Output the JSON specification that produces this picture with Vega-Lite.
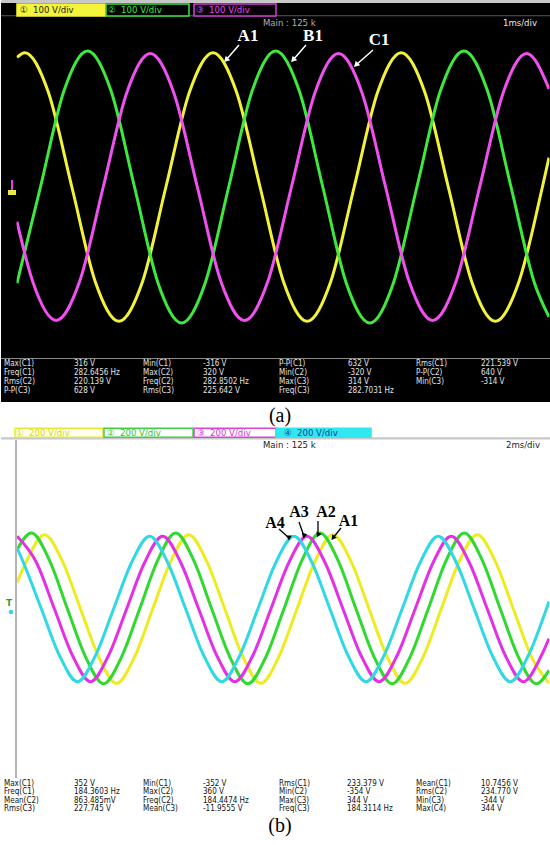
{
"$schema": "https://vega.github.io/schema/vega-lite/v6.json",
"padding": 0,
"background": "#ffffff",
"spacing": 0,
"config": {"view": {"stroke": null}, "axis": {"minExtent": 0, "maxExtent": 0}},
"vconcat": [
{
"width": 550, "height": 427,
"view": {"fill": "#000000", "stroke": null},
"resolve": {"scale": {"color": "independent", "fill": "independent", "stroke": "independent"}},
"layer": [
{
"data": {"values": [
{"c":"A","t":0,"v":305},{"c":"A","t":0.146,"v":316},{"c":"A","t":0.588,"v":223.4},{"c":"A","t":1.031,"v":0},{"c":"A","t":1.473,"v":-223.4},{"c":"A","t":1.915,"v":-316},{"c":"A","t":2.357,"v":-223.4},{"c":"A","t":2.799,"v":0},{"c":"A","t":3.242,"v":223.4},{"c":"A","t":3.684,"v":316},{"c":"A","t":4.126,"v":223.4},{"c":"A","t":4.569,"v":0},{"c":"A","t":5.011,"v":-223.4},{"c":"A","t":5.453,"v":-316},{"c":"A","t":5.895,"v":-223.4},{"c":"A","t":6.338,"v":0},{"c":"A","t":6.78,"v":223.4},{"c":"A","t":7.222,"v":316},{"c":"A","t":7.664,"v":223.4},{"c":"A","t":8.107,"v":0},{"c":"A","t":8.549,"v":-223.4},{"c":"A","t":8.991,"v":-316},{"c":"A","t":9.433,"v":-223.4},{"c":"A","t":9.876,"v":0},{"c":"A","t":10,"v":69},
{"c":"B","t":0,"v":-226.3},{"c":"B","t":0.441,"v":0},{"c":"B","t":0.883,"v":226.3},{"c":"B","t":1.325,"v":320},{"c":"B","t":1.767,"v":226.3},{"c":"B","t":2.209,"v":0},{"c":"B","t":2.652,"v":-226.3},{"c":"B","t":3.094,"v":-320},{"c":"B","t":3.536,"v":-226.3},{"c":"B","t":3.979,"v":0},{"c":"B","t":4.421,"v":226.3},{"c":"B","t":4.863,"v":320},{"c":"B","t":5.305,"v":226.3},{"c":"B","t":5.748,"v":0},{"c":"B","t":6.19,"v":-226.3},{"c":"B","t":6.632,"v":-320},{"c":"B","t":7.074,"v":-226.3},{"c":"B","t":7.517,"v":0},{"c":"B","t":7.959,"v":226.3},{"c":"B","t":8.401,"v":320},{"c":"B","t":8.843,"v":226.3},{"c":"B","t":9.286,"v":0},{"c":"B","t":9.728,"v":-226.3},{"c":"B","t":10,"v":-305.6},
{"c":"C","t":0,"v":-81.8},{"c":"C","t":0.294,"v":-222},{"c":"C","t":0.736,"v":-314},{"c":"C","t":1.178,"v":-222},{"c":"C","t":1.621,"v":0},{"c":"C","t":2.063,"v":222},{"c":"C","t":2.505,"v":314},{"c":"C","t":2.947,"v":222},{"c":"C","t":3.39,"v":0},{"c":"C","t":3.832,"v":-222},{"c":"C","t":4.274,"v":-314},{"c":"C","t":4.716,"v":-222},{"c":"C","t":5.159,"v":0},{"c":"C","t":5.601,"v":222},{"c":"C","t":6.043,"v":314},{"c":"C","t":6.485,"v":222},{"c":"C","t":6.928,"v":0},{"c":"C","t":7.37,"v":-222},{"c":"C","t":7.812,"v":-314},{"c":"C","t":8.254,"v":-222},{"c":"C","t":8.697,"v":0},{"c":"C","t":9.139,"v":222},{"c":"C","t":9.581,"v":314},{"c":"C","t":10,"v":231}
]},
"mark": {"type": "line", "interpolate": "monotone", "strokeWidth": 3},
"encoding": {
"x": {"field": "t", "type": "quantitative", "scale": {"domain": [-0.30075, 10.03759], "nice": false, "zero": false},
"axis": {"title": null, "labels": false, "ticks": false, "domain": false, "grid": true, "gridWidth": 1,
"gridColor": {"condition": {"test": "abs(datum.value - round(datum.value)) < 0.001", "value": "#4a4a4a"}, "value": "#2e2e2e"},
"values": [0,0.2,0.4,0.6,0.8,1,1.2,1.4,1.6,1.8,2,2.2,2.4,2.6,2.8,3,3.2,3.4,3.6,3.8,4,4.2,4.4,4.6,4.8,5,5.2,5.4,5.6,5.8,6,6.2,6.4,6.6,6.8,7,7.2,7.4,7.6,7.8,8,8.2,8.4,8.6,8.8,9,9.2,9.4,9.6,9.8,10]}},
"y": {"field": "v", "type": "quantitative", "scale": {"domain": [-564.71, 440], "nice": false, "zero": false},
"axis": {"title": null, "labels": false, "ticks": false, "domain": false, "grid": true, "gridWidth": 1,
"gridColor": {"condition": {"test": "datum.value % 100 == 0", "value": "#4a4a4a"}, "value": "#2e2e2e"},
"values": [-400,-380,-360,-340,-320,-300,-280,-260,-240,-220,-200,-180,-160,-140,-120,-100,-80,-60,-40,-20,0,20,40,60,80,100,120,140,160,180,200,220,240,260,280,300,320,340,360,380,400]}},
"color": {"field": "c", "type": "nominal", "scale": {"domain": ["A","B","C"], "range": ["#f2f23c","#3ee83e","#f050f0"]}, "legend": null}
}
},
{
"data": {"values": [
{"t":-0.30075,"t2":10.03759,"v":401.2,"v2":440},
{"t":-0.30075,"t2":10.03759,"v":-505.9,"v2":-401.2},
{"t":-0.30075,"t2":-0.0094,"v":-401.2,"v2":401.2},
{"t":10.0094,"t2":10.03759,"v":-401.2,"v2":401.2}
]},
"mark": {"type": "rect", "color": "#000000"},
"encoding": {"x": {"field":"t","type":"quantitative","axis":null}, "x2": {"field":"t2"}, "y": {"field":"v","type":"quantitative","axis":null}, "y2": {"field":"v2"}}
},
{
"data": {"values": [
{"k":"white","t":-0.30075,"t2":10.03759,"v":-564.71,"v2":-505.9},
{"k":"band","t":-0.30075,"t2":10.03759,"v":432.9,"v2":440},
{"k":"yel","t":-0.169,"t2":-0.019,"v":-18.8,"v2":-7},
{"k":"mag","t":-0.113,"t2":-0.075,"v":-7,"v2":16.5}
]},
"mark": {"type": "rect"},
"encoding": {"x": {"field":"t","type":"quantitative","axis":null}, "x2": {"field":"t2"}, "y": {"field":"v","type":"quantitative","axis":null}, "y2": {"field":"v2"},
"color": {"field":"k","type":"nominal","scale":{"domain":["white","band","yel","mag"],"range":["#ffffff","#c8c8c8","#e8e840","#e040e0"]},"legend":null}}
},
{
"data": {"values": [
{"k":"h","t":-0.30075,"t2":10.03759,"v":402.9},
{"k":"m","t":-0.30075,"t2":10.03759,"v":-403.5}
]},
"mark": {"type": "rule", "strokeWidth": 1.2},
"encoding": {"x": {"field":"t","type":"quantitative","axis":null}, "x2": {"field":"t2"}, "y": {"field":"v","type":"quantitative","axis":null},
"color": {"field":"k","type":"nominal","scale":{"domain":["h","m"],"range":["#5a5a6a","#8a8a8a"]},"legend":null}}
},
{
"data": {"values": [
{"k":"1","t":0,"t2":1.654,"v":402.4,"v2":430.6},
{"k":"2","t":1.673,"t2":3.233,"v":402.4,"v2":430.6},
{"k":"3","t":3.327,"t2":4.868,"v":402.4,"v2":430.6}
]},
"mark": {"type": "rect", "strokeWidth": 1.5},
"encoding": {"x": {"field":"t","type":"quantitative","axis":null}, "x2": {"field":"t2"}, "y": {"field":"v","type":"quantitative","axis":null}, "y2": {"field":"v2"},
"fill": {"field":"k","type":"nominal","scale":{"domain":["1","2","3"],"range":["#f4f43a","#000000","#0a000a"]},"legend":null},
"stroke": {"field":"k","type":"nominal","scale":{"domain":["1","2","3"],"range":["#f4f43a","#3ee83e","#d040d0"]},"legend":null}}
},
{
"data": {"values": [
{"k":"1","t":0.056,"v":416.5,"s":"①\u00a0\u00a0100 V/div"},
{"k":"2","t":1.711,"v":416.5,"s":"②\u00a0\u00a0100 V/div"},
{"k":"3","t":3.365,"v":416.5,"s":"③\u00a0\u00a0100 V/div"},
{"k":"4","t":4.624,"v":385.9,"s":"Main : 125 k"},
{"k":"5","t":9.135,"v":385.9,"s":"1ms/div"}
]},
"mark": {"type": "text", "align": "left", "baseline": "middle", "font": "DejaVu Sans Condensed, Liberation Sans Narrow, sans-serif", "fontSize": 9.5},
"encoding": {"x": {"field":"t","type":"quantitative","axis":null}, "y": {"field":"v","type":"quantitative","axis":null}, "text": {"field":"s"},
"color": {"field":"k","type":"nominal","scale":{"domain":["1","2","3","4","5"],"range":["#202020","#40e840","#e848e8","#b0b0b0","#e8e8e8"]},"legend":null}}
},
{
"data": {"values": [
{"t":4.173,"v":334.1,"t2":3.929,"v2":298.8},
{"t":5.432,"v":334.1,"t2":5.188,"v2":298.8},
{"t":6.692,"v":322.4,"t2":6.372,"v2":287.1}
]},
"layer": [
{"mark": {"type": "rule", "color": "#ffffff", "strokeWidth": 1.5},
"encoding": {"x": {"field":"t","type":"quantitative","axis":null}, "x2": {"field":"t2"}, "y": {"field":"v","type":"quantitative","axis":null}, "y2": {"field":"v2"}}},
{"mark": {"type": "point", "shape": "triangle-up", "filled": true, "color": "#ffffff", "size": 40, "angle": 225, "opacity": 1},
"encoding": {"x": {"field":"t2","type":"quantitative","axis":null}, "y": {"field":"v2","type":"quantitative","axis":null}}}
]
},
{
"data": {"values": [
{"t":4.342,"v":355.3,"s":"A1"},
{"t":5.564,"v":355.3,"s":"B1"},
{"t":6.805,"v":345.9,"s":"C1"}
]},
"mark": {"type": "text", "align": "center", "baseline": "middle", "font": "Liberation Serif", "fontWeight": "bold", "fontSize": 17, "color": "#ffffff"},
"encoding": {"x": {"field":"t","type":"quantitative","axis":null}, "y": {"field":"v","type":"quantitative","axis":null}, "text": {"field":"s"}}
},
{
"data": {"values": [
{"t":-0.2444,"v":-417.6,"s":"Max(C1)"},{"t":1.0714,"v":-417.6,"s":"316 V"},{"t":2.3684,"v":-417.6,"s":"Min(C1)"},{"t":3.4962,"v":-417.6,"s":"-316 V"},{"t":4.9248,"v":-417.6,"s":"P-P(C1)"},{"t":6.2218,"v":-417.6,"s":"632 V"},{"t":7.5,"v":-417.6,"s":"Rms(C1)"},{"t":8.7218,"v":-417.6,"s":"\u00a0221.539 V"},
{"t":-0.2444,"v":-438.1,"s":"Freq(C1)"},{"t":1.0714,"v":-438.1,"s":"282.6456 Hz"},{"t":2.3684,"v":-438.1,"s":"Max(C2)"},{"t":3.4962,"v":-438.1,"s":"\u00a0320 V"},{"t":4.9248,"v":-438.1,"s":"Min(C2)"},{"t":6.2218,"v":-438.1,"s":"-320 V"},{"t":7.5,"v":-438.1,"s":"P-P(C2)"},{"t":8.7218,"v":-438.1,"s":"\u00a0640 V"},
{"t":-0.2444,"v":-458.6,"s":"Rms(C2)"},{"t":1.0714,"v":-458.6,"s":"220.139 V"},{"t":2.3684,"v":-458.6,"s":"Freq(C2)"},{"t":3.4962,"v":-458.6,"s":"282.8502 Hz"},{"t":4.9248,"v":-458.6,"s":"Max(C3)"},{"t":6.2218,"v":-458.6,"s":"314 V"},{"t":7.5,"v":-458.6,"s":"Min(C3)"},{"t":8.7218,"v":-458.6,"s":"-314 V"},
{"t":-0.2444,"v":-479.1,"s":"P-P(C3)"},{"t":1.0714,"v":-479.1,"s":"628 V"},{"t":2.3684,"v":-479.1,"s":"Rms(C3)"},{"t":3.4962,"v":-479.1,"s":"225.642 V"},{"t":4.9248,"v":-479.1,"s":"Freq(C3)"},{"t":6.2218,"v":-479.1,"s":"282.7031 Hz"}
]},
"mark": {"type": "text", "align": "left", "baseline": "middle", "font": "DejaVu Sans Condensed, Liberation Sans Narrow, sans-serif", "fontSize": 8, "color": "#e4e4e4"},
"encoding": {"x": {"field":"t","type":"quantitative","axis":null}, "y": {"field":"v","type":"quantitative","axis":null}, "text": {"field":"s"}}
},
{
"data": {"values": [{"t":4.944,"v":-538.8,"s":"(a)"}]},
"mark": {"type": "text", "align": "center", "baseline": "middle", "font": "Liberation Serif", "fontSize": 20, "color": "#000000"},
"encoding": {"x": {"field":"t","type":"quantitative","axis":null}, "y": {"field":"v","type":"quantitative","axis":null}, "text": {"field":"s"}}
}
]
},
{
"width": 550, "height": 418,
"view": {"fill": "#ffffff", "stroke": null},
"resolve": {"scale": {"color": "independent", "fill": "independent", "stroke": "independent"}},
"layer": [
{
"data": {"values": [
{"c":"C1","t":0,"v":125},{"c":"C1","t":0.354,"v":225.3},{"c":"C1","t":1.032,"v":352},{"c":"C1","t":1.71,"v":225.3},{"c":"C1","t":2.388,"v":0},{"c":"C1","t":3.066,"v":-225.3},{"c":"C1","t":3.744,"v":-352},{"c":"C1","t":4.422,"v":-225.3},{"c":"C1","t":5.1,"v":0},{"c":"C1","t":5.778,"v":225.3},{"c":"C1","t":6.456,"v":352},{"c":"C1","t":7.134,"v":225.3},{"c":"C1","t":7.812,"v":0},{"c":"C1","t":8.49,"v":-225.3},{"c":"C1","t":9.168,"v":-352},{"c":"C1","t":9.846,"v":-225.3},{"c":"C1","t":10.524,"v":0},{"c":"C1","t":11.202,"v":225.3},{"c":"C1","t":11.88,"v":352},{"c":"C1","t":12.558,"v":225.3},{"c":"C1","t":13.236,"v":0},{"c":"C1","t":13.914,"v":-225.3},{"c":"C1","t":14.592,"v":-352},{"c":"C1","t":15.27,"v":-225.3},{"c":"C1","t":15.948,"v":0},{"c":"C1","t":16.626,"v":225.3},{"c":"C1","t":17.304,"v":352},{"c":"C1","t":17.982,"v":225.3},{"c":"C1","t":18.66,"v":0},{"c":"C1","t":19.338,"v":-225.3},{"c":"C1","t":20,"v":-351},
{"c":"C2","t":0,"v":280},{"c":"C2","t":0.542,"v":360},{"c":"C2","t":1.22,"v":230.4},{"c":"C2","t":1.898,"v":0},{"c":"C2","t":2.576,"v":-226.6},{"c":"C2","t":3.254,"v":-354},{"c":"C2","t":3.932,"v":-226.6},{"c":"C2","t":4.61,"v":0},{"c":"C2","t":5.288,"v":230.4},{"c":"C2","t":5.966,"v":360},{"c":"C2","t":6.644,"v":230.4},{"c":"C2","t":7.322,"v":0},{"c":"C2","t":8.0,"v":-226.6},{"c":"C2","t":8.678,"v":-354},{"c":"C2","t":9.356,"v":-226.6},{"c":"C2","t":10.034,"v":0},{"c":"C2","t":10.712,"v":230.4},{"c":"C2","t":11.39,"v":360},{"c":"C2","t":12.068,"v":230.4},{"c":"C2","t":12.746,"v":0},{"c":"C2","t":13.424,"v":-226.6},{"c":"C2","t":14.102,"v":-354},{"c":"C2","t":14.78,"v":-226.6},{"c":"C2","t":15.458,"v":0},{"c":"C2","t":16.136,"v":230.4},{"c":"C2","t":16.814,"v":360},{"c":"C2","t":17.492,"v":230.4},{"c":"C2","t":18.17,"v":0},{"c":"C2","t":18.848,"v":-226.6},{"c":"C2","t":19.526,"v":-354},{"c":"C2","t":20,"v":-290},
{"c":"C3","t":0,"v":344},{"c":"C3","t":0.73,"v":220.2},{"c":"C3","t":1.408,"v":0},{"c":"C3","t":2.086,"v":-220.2},{"c":"C3","t":2.764,"v":-344},{"c":"C3","t":3.442,"v":-220.2},{"c":"C3","t":4.12,"v":0},{"c":"C3","t":4.798,"v":220.2},{"c":"C3","t":5.476,"v":344},{"c":"C3","t":6.154,"v":220.2},{"c":"C3","t":6.832,"v":0},{"c":"C3","t":7.51,"v":-220.2},{"c":"C3","t":8.188,"v":-344},{"c":"C3","t":8.866,"v":-220.2},{"c":"C3","t":9.544,"v":0},{"c":"C3","t":10.222,"v":220.2},{"c":"C3","t":10.9,"v":344},{"c":"C3","t":11.578,"v":220.2},{"c":"C3","t":12.256,"v":0},{"c":"C3","t":12.934,"v":-220.2},{"c":"C3","t":13.612,"v":-344},{"c":"C3","t":14.29,"v":-220.2},{"c":"C3","t":14.968,"v":0},{"c":"C3","t":15.646,"v":220.2},{"c":"C3","t":16.324,"v":344},{"c":"C3","t":17.002,"v":220.2},{"c":"C3","t":17.68,"v":0},{"c":"C3","t":18.358,"v":-220.2},{"c":"C3","t":19.036,"v":-344},{"c":"C3","t":19.714,"v":-220.2},{"c":"C3","t":20,"v":-140},
{"c":"C4","t":0,"v":290},{"c":"C4","t":0.24,"v":220.2},{"c":"C4","t":0.918,"v":0},{"c":"C4","t":1.596,"v":-220.2},{"c":"C4","t":2.274,"v":-344},{"c":"C4","t":2.952,"v":-220.2},{"c":"C4","t":3.63,"v":0},{"c":"C4","t":4.308,"v":220.2},{"c":"C4","t":4.986,"v":344},{"c":"C4","t":5.664,"v":220.2},{"c":"C4","t":6.342,"v":0},{"c":"C4","t":7.02,"v":-220.2},{"c":"C4","t":7.698,"v":-344},{"c":"C4","t":8.376,"v":-220.2},{"c":"C4","t":9.054,"v":0},{"c":"C4","t":9.732,"v":220.2},{"c":"C4","t":10.41,"v":344},{"c":"C4","t":11.088,"v":220.2},{"c":"C4","t":11.766,"v":0},{"c":"C4","t":12.444,"v":-220.2},{"c":"C4","t":13.122,"v":-344},{"c":"C4","t":13.8,"v":-220.2},{"c":"C4","t":14.478,"v":0},{"c":"C4","t":15.156,"v":220.2},{"c":"C4","t":15.834,"v":344},{"c":"C4","t":16.512,"v":220.2},{"c":"C4","t":17.19,"v":0},{"c":"C4","t":17.868,"v":-220.2},{"c":"C4","t":18.546,"v":-344},{"c":"C4","t":19.224,"v":-220.2},{"c":"C4","t":19.902,"v":0},{"c":"C4","t":20,"v":35}
]},
"mark": {"type": "line", "interpolate": "monotone", "strokeWidth": 3},
"encoding": {
"x": {"field": "t", "type": "quantitative", "scale": {"domain": [-0.6015, 20.0752], "nice": false, "zero": false},
"axis": {"title": null, "labels": false, "ticks": false, "domain": false, "grid": true, "gridWidth": 1,
"gridColor": {"condition": {"test": "abs(datum.value/2 - round(datum.value/2)) < 0.001", "value": "#c4c4c4"}, "value": "#e4e4e4"},
"values": [0,0.4,0.8,1.2,1.6,2,2.4,2.8,3.2,3.6,4,4.4,4.8,5.2,5.6,6,6.4,6.8,7.2,7.6,8,8.4,8.8,9.2,9.6,10,10.4,10.8,11.2,11.6,12,12.4,12.8,13.2,13.6,14,14.4,14.8,15.2,15.6,16,16.4,16.8,17.2,17.6,18,18.4,18.8,19.2,19.6,20]}},
"y": {"field": "v", "type": "quantitative", "scale": {"domain": [-1117.2, 861.5], "nice": false, "zero": false},
"axis": {"title": null, "labels": false, "ticks": false, "domain": false, "grid": true, "gridWidth": 1,
"gridColor": {"condition": {"test": "datum.value % 200 == 0", "value": "#c4c4c4"}, "value": "#e4e4e4"},
"values": [-800,-760,-720,-680,-640,-600,-560,-520,-480,-440,-400,-360,-320,-280,-240,-200,-160,-120,-80,-40,0,40,80,120,160,200,240,280,320,360,400,440,480,520,560,600,640,680,720,760,800]}},
"color": {"field": "c", "type": "nominal", "scale": {"domain": ["C1","C2","C3","C4"], "range": ["#ecec20","#30d830","#e430e4","#30d8e4"]}, "legend": null}
}
},
{
"data": {"values": [
{"t":-0.6015,"t2":20.0752,"v":802.4,"v2":861.5},
{"t":-0.6015,"t2":20.0752,"v":-1117.2,"v2":-802.4},
{"t":-0.6015,"t2":-0.019,"v":-802.4,"v2":802.4},
{"t":20.019,"t2":20.0752,"v":-802.4,"v2":802.4}
]},
"mark": {"type": "rect", "color": "#ffffff"},
"encoding": {"x": {"field":"t","type":"quantitative","axis":null}, "x2": {"field":"t2"}, "y": {"field":"v","type":"quantitative","axis":null}, "y2": {"field":"v2"}}
},
{
"data": {"values": [
{"k":"band","t":-0.6015,"t2":20.0752,"v":802.4,"v2":813},
{"k":"edge","t":-0.075,"t2":0,"v":-800,"v2":800}
]},
"mark": {"type": "rect"},
"encoding": {"x": {"field":"t","type":"quantitative","axis":null}, "x2": {"field":"t2"}, "y": {"field":"v","type":"quantitative","axis":null}, "y2": {"field":"v2"},
"color": {"field":"k","type":"nominal","scale":{"domain":["band","edge"],"range":["#c8c8c8","#b4b4b4"]},"legend":null}}
},
{
"data": {"values": [
{"k":"1","t":-0.075,"t2":3.233,"v":813,"v2":855.4},
{"k":"2","t":3.271,"t2":6.617,"v":813,"v2":855.4},
{"k":"3","t":6.654,"t2":9.737,"v":813,"v2":855.4},
{"k":"4","t":9.737,"t2":13.308,"v":813,"v2":855.4}
]},
"mark": {"type": "rect", "strokeWidth": 1.5},
"encoding": {"x": {"field":"t","type":"quantitative","axis":null}, "x2": {"field":"t2"}, "y": {"field":"v","type":"quantitative","axis":null}, "y2": {"field":"v2"},
"fill": {"field":"k","type":"nominal","scale":{"domain":["1","2","3","4"],"range":["#fffff0","#ffffff","#ffffff","#30e8f0"]},"legend":null},
"stroke": {"field":"k","type":"nominal","scale":{"domain":["1","2","3","4"],"range":["#e8e830","#40d040","#e040e0","#30e8f0"]},"legend":null}}
},
{
"data": {"values": [
{"k":"1","t":-0.0376,"v":834.1,"s":"①\u00a0\u00a0200 V/div"},
{"k":"2","t":3.383,"v":834.1,"s":"②\u00a0\u00a0200 V/div"},
{"k":"3","t":6.767,"v":834.1,"s":"③\u00a0\u00a0200 V/div"},
{"k":"4","t":10.038,"v":834.1,"s":"④\u00a0\u00a0200 V/div"},
{"k":"5","t":9.248,"v":776.3,"s":"Main : 125 k"},
{"k":"5","t":18.383,"v":776.3,"s":"2ms/div"}
]},
"mark": {"type": "text", "align": "left", "baseline": "middle", "font": "DejaVu Sans Condensed, Liberation Sans Narrow, sans-serif", "fontSize": 9.5},
"encoding": {"x": {"field":"t","type":"quantitative","axis":null}, "y": {"field":"v","type":"quantitative","axis":null}, "text": {"field":"s"},
"color": {"field":"k","type":"nominal","scale":{"domain":["1","2","3","4","5"],"range":["#d8d800","#30c030","#d830d8","#1a3a9a","#222222"]},"legend":null}}
},
{
"data": {"values": [{"t":-0.3,"v":28.4,"s":"T"}]},
"mark": {"type": "text", "align": "center", "baseline": "middle", "font": "DejaVu Sans", "fontWeight": "bold", "fontSize": 9, "color": "#30a030"},
"encoding": {"x": {"field":"t","type":"quantitative","axis":null}, "y": {"field":"v","type":"quantitative","axis":null}, "text": {"field":"s"}}
},
{
"data": {"values": [{"t":-0.2256,"v":-14.2}]},
"mark": {"type": "point", "shape": "circle", "filled": true, "color": "#40d0e8", "size": 22, "opacity": 1},
"encoding": {"x": {"field":"t","type":"quantitative","axis":null}, "y": {"field":"v","type":"quantitative","axis":null}}
},
{
"data": {"values": [
{"lab":"A4","t":9.85,"v":378.7,"t2":10.226,"v2":336.1},
{"lab":"A3","t":10.602,"v":411.8,"t2":10.789,"v2":345.6},
{"lab":"A2","t":11.316,"v":416.6,"t2":11.316,"v2":350.3},
{"lab":"A1","t":12.18,"v":383.4,"t2":11.88,"v2":336.1}
]},
"layer": [
{"mark": {"type": "rule", "color": "#000000", "strokeWidth": 1.3},
"encoding": {"x": {"field":"t","type":"quantitative","axis":null}, "x2": {"field":"t2"}, "y": {"field":"v","type":"quantitative","axis":null}, "y2": {"field":"v2"}}},
{"mark": {"type": "point", "shape": "triangle-up", "filled": true, "color": "#000000", "size": 34, "opacity": 1},
"encoding": {"x": {"field":"t2","type":"quantitative","axis":null}, "y": {"field":"v2","type":"quantitative","axis":null},
"angle": {"field":"lab","type":"nominal","scale":{"domain":["A1","A2","A3","A4"],"range":[219,180,160,132]},"legend":null}}}
]
},
{
"data": {"values": [
{"t":9.699,"v":407.1,"s":"A4"},
{"t":10.602,"v":456.8,"s":"A3"},
{"t":11.617,"v":456.8,"s":"A2"},
{"t":12.462,"v":416.6,"s":"A1"}
]},
"mark": {"type": "text", "align": "center", "baseline": "middle", "font": "Liberation Serif", "fontWeight": "bold", "fontSize": 16, "color": "#000000"},
"encoding": {"x": {"field":"t","type":"quantitative","axis":null}, "y": {"field":"v","type":"quantitative","axis":null}, "text": {"field":"s"}}
},
{
"data": {"values": [
{"t":-0.4887,"v":-828.4,"s":"Max(C1)"},{"t":2.1429,"v":-828.4,"s":"352 V"},{"t":4.7368,"v":-828.4,"s":"Min(C1)"},{"t":6.9925,"v":-828.4,"s":"-352 V"},{"t":9.8496,"v":-828.4,"s":"Rms(C1)"},{"t":12.406,"v":-828.4,"s":"233.379 V"},{"t":15.0,"v":-828.4,"s":"Mean(C1)"},{"t":17.4436,"v":-828.4,"s":"\u00a010.7456 V"},
{"t":-0.4887,"v":-868.6,"s":"Freq(C1)"},{"t":2.1429,"v":-868.6,"s":"184.3603 Hz"},{"t":4.7368,"v":-868.6,"s":"Max(C2)"},{"t":6.9925,"v":-868.6,"s":"\u00a0360 V"},{"t":9.8496,"v":-868.6,"s":"Min(C2)"},{"t":12.406,"v":-868.6,"s":"-354 V"},{"t":15.0,"v":-868.6,"s":"Rms(C2)"},{"t":17.4436,"v":-868.6,"s":"\u00a0234.770 V"},
{"t":-0.4887,"v":-908.9,"s":"Mean(C2)"},{"t":2.1429,"v":-908.9,"s":"863.485mV"},{"t":4.7368,"v":-908.9,"s":"Freq(C2)"},{"t":6.9925,"v":-908.9,"s":"\u00a0184.4474 Hz"},{"t":9.8496,"v":-908.9,"s":"Max(C3)"},{"t":12.406,"v":-908.9,"s":"344 V"},{"t":15.0,"v":-908.9,"s":"Min(C3)"},{"t":17.4436,"v":-908.9,"s":"-344 V"},
{"t":-0.4887,"v":-949.1,"s":"Rms(C3)"},{"t":2.1429,"v":-949.1,"s":"227.745 V"},{"t":4.7368,"v":-949.1,"s":"Mean(C3)"},{"t":6.9925,"v":-949.1,"s":"-11.9555 V"},{"t":9.8496,"v":-949.1,"s":"Freq(C3)"},{"t":12.406,"v":-949.1,"s":"184.3114 Hz"},{"t":15.0,"v":-949.1,"s":"Max(C4)"},{"t":17.4436,"v":-949.1,"s":"\u00a0344 V"}
]},
"mark": {"type": "text", "align": "left", "baseline": "middle", "font": "DejaVu Sans Condensed, Liberation Sans Narrow, sans-serif", "fontSize": 8, "color": "#111111"},
"encoding": {"x": {"field":"t","type":"quantitative","axis":null}, "y": {"field":"v","type":"quantitative","axis":null}, "text": {"field":"s"}}
},
{
"data": {"values": [{"t":9.887,"v":-1027.2,"s":"(b)"}]},
"mark": {"type": "text", "align": "center", "baseline": "middle", "font": "Liberation Serif", "fontSize": 20, "color": "#000000"},
"encoding": {"x": {"field":"t","type":"quantitative","axis":null}, "y": {"field":"v","type":"quantitative","axis":null}, "text": {"field":"s"}}
}
]
}
]
}
